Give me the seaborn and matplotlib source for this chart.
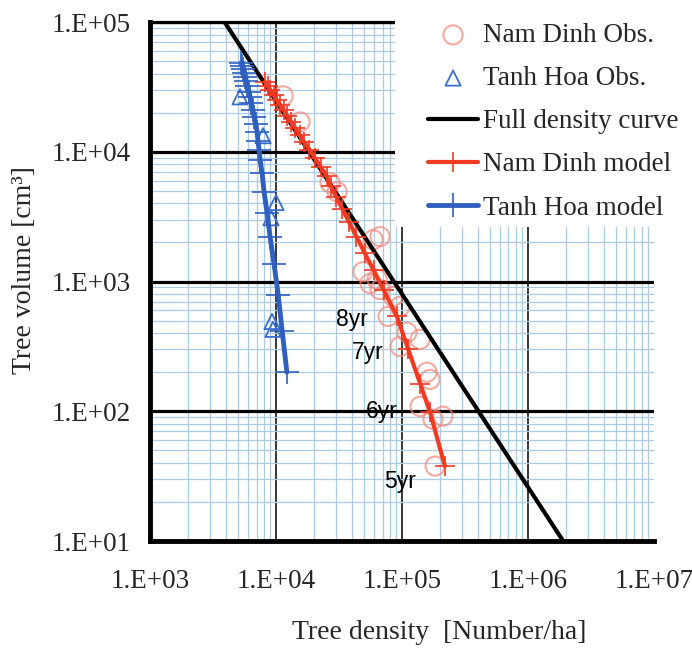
import numpy as np
import pandas as pd
import seaborn as sns
import matplotlib.pyplot as plt
from matplotlib.patches import Rectangle
from matplotlib.ticker import FixedLocator, FuncFormatter, LogLocator, NullFormatter

# Nam Dinh observations (tree density [N/ha], tree volume [cm3])
nd_obs_density = [11400, 15500, 26800, 30500, 58900, 66900, 49000, 55700, 63400, 84900, 77500,
                  96400, 109600, 139000, 96400, 157800, 166700, 139000, 211000, 176000, 183000, 66900]
nd_obs_volume = [27000, 17000, 5780, 4920, 2100, 2220, 1190, 966, 1040, 767, 538,
                 643, 405, 358, 316, 200, 176, 109, 91.6, 86.8, 37.8, 867]

# Tanh Hoa observations
th_obs_density = [5180, 7890, 10000, 9120, 9290, 9460]
th_obs_volume = [26500, 13300, 4060, 3100, 492, 428]

# full density curve (end points)
full_density = [3900, 1.9e6]
full_volume = [1e5, 1e1]

# Nam Dinh model
nd_mod_density = [8190, 8570, 8990, 9550, 10100, 10800, 11500, 12300, 13200, 14200, 15400, 16700,
                  18400, 20300, 22600, 25200, 27100, 30000, 33500, 37800, 43500, 50400, 59600,
                  71800, 91200, 112000, 140000, 167000, 219000]
nd_mod_volume = [34500, 32200, 30000, 27400, 25100, 23000, 21000, 18900, 17000, 15300, 13500, 11900,
                 10400, 8990, 7670, 6530, 5470, 4510, 3650, 2900, 2220, 1670, 1220,
                 853, 538, 300, 161, 98, 37.8]

# Tanh Hoa model
th_mod_density = [5270, 5370, 5470, 5570, 5670, 5780, 5890, 6110, 6220, 6340, 6570, 6690, 6930,
                  7060, 7190, 7330, 7470, 7740, 8040, 8490, 8970, 9640, 10400, 11200, 12200]
th_mod_volume = [48400, 45900, 43500, 40500, 37800, 35200, 32200, 28900, 26500, 23800, 21000, 18600,
                 16400, 14300, 12200, 10400, 8670, 6890, 4920, 3390, 2220, 1370, 794, 412, 200]

# age labels
age_text = ['8yr', '7yr', '6yr', '5yr']
age_x = [40100, 53700, 69300, 96400]
age_y = [511, 285, 100, 28.5]

sns.set_theme(style='white')
plt.rcParams['font.family'] = ['Liberation Serif', 'DejaVu Serif']

fig = plt.figure(figsize=(6.92, 6.49), dpi=100)
ax = fig.add_axes([0.2168, 0.1664, 0.7283, 0.7997])

ax.set_xscale('log')
ax.set_yscale('log')

nd_obs = pd.DataFrame({'d': nd_obs_density, 'v': nd_obs_volume})
th_obs = pd.DataFrame({'d': th_obs_density, 'v': th_obs_volume})
nd_mod = pd.DataFrame({'d': nd_mod_density, 'v': nd_mod_volume})
th_mod = pd.DataFrame({'d': th_mod_density, 'v': th_mod_volume})
full = pd.DataFrame({'d': full_density, 'v': full_volume})

salmon = '#f2877a'
red = '#f23a22'
blue = '#2f5fbf'
tri_blue = '#3a6fd0'

sns.scatterplot(data=nd_obs, x='d', y='v', ax=ax, marker='o', s=190, facecolor='none',
                edgecolor=salmon, linewidth=1.5, alpha=0.7, zorder=3, label='Nam Dinh Obs.')
sns.scatterplot(data=th_obs, x='d', y='v', ax=ax, marker='^', s=120, facecolor='none',
                edgecolor=tri_blue, linewidth=1.3, zorder=3, label='Tanh Hoa Obs.')
sns.lineplot(data=full, x='d', y='v', ax=ax, color='black', lw=3, sort=False,
             estimator=None, zorder=4, label='Full density curve')
sns.lineplot(data=nd_mod, x='d', y='v', ax=ax, color=red, lw=3, marker='+', markersize=14,
             markeredgewidth=1.2, markeredgecolor=red, sort=False, estimator=None, zorder=5,
             label='Nam Dinh model')
sns.lineplot(data=th_mod, x='d', y='v', ax=ax, color=blue, lw=3.5, marker='+', markersize=17,
             markeredgewidth=1.2, markeredgecolor=blue, sort=False, estimator=None, zorder=5,
             label='Tanh Hoa model')

for t, x, y in zip(age_text, age_x, age_y):
    ax.text(x, y, t, ha='center', va='center', fontsize=16.5, family='Liberation Sans',
            color='black', zorder=6)

ax.set_xlim(1e3, 1e7)
ax.set_ylim(1e1, 1e5)
ax.xaxis.set_major_locator(FixedLocator([1e3, 1e4, 1e5, 1e6, 1e7]))
ax.yaxis.set_major_locator(FixedLocator([1e1, 1e2, 1e3, 1e4, 1e5]))
ax.xaxis.set_minor_locator(LogLocator(base=10, subs=np.arange(2, 10)))
ax.yaxis.set_minor_locator(LogLocator(base=10, subs=np.arange(2, 10)))
ax.xaxis.set_minor_formatter(NullFormatter())
ax.yaxis.set_minor_formatter(NullFormatter())
fmt = FuncFormatter(lambda v, p: '1.E+%02d' % int(round(np.log10(v))))
ax.xaxis.set_major_formatter(fmt)
ax.yaxis.set_major_formatter(fmt)

ax.set_axisbelow(True)
ax.grid(which='minor', axis='both', color='#a9cbe3', lw=0.9)
ax.grid(which='major', axis='y', color='black', lw=2.3)
ax.grid(which='major', axis='x', color='black', lw=1.1)
ax.xaxis.get_major_ticks()[-1].gridline.set_visible(False)

ax.tick_params(which='major', direction='in', length=4, width=2, labelsize=19.5, color='black')
ax.tick_params(axis='x', which='major', pad=20)
ax.tick_params(axis='y', which='major', pad=14)
ax.tick_params(which='minor', length=0)

for s in ['left', 'bottom']:
    ax.spines[s].set_linewidth(3.5)
    ax.spines[s].set_color('black')
ax.spines['top'].set_linewidth(2.3)
ax.spines['top'].set_color('black')
ax.spines['right'].set_visible(False)

ax.set_xlabel('Tree density  [Number/ha]', fontsize=20)
ax.set_ylabel('Tree volume [cm³]', fontsize=20)
ax.xaxis.set_label_coords(0.573, -0.152)
ax.yaxis.set_label_coords(-0.225, 0.522)

# white block behind the legend (covers grid in the upper right)
ax.add_patch(Rectangle((395 / 692, 1 - 227 / 649), 1, 1, transform=fig.transFigure,
                       facecolor='white', edgecolor='none', zorder=2.6, clip_on=False))

handles, labels = ax.get_legend_handles_labels()
leg = ax.legend(handles, labels, loc='upper left', bbox_to_anchor=(428 / 692, 1 - 23 / 649),
                bbox_transform=fig.transFigure, fontsize=19.5, frameon=False,
                borderpad=0, borderaxespad=0, handlelength=1.85, handletextpad=0.19,
                labelspacing=0.67)
leg.set_zorder(10)

fig.savefig('out.png', dpi=100, facecolor='white')
